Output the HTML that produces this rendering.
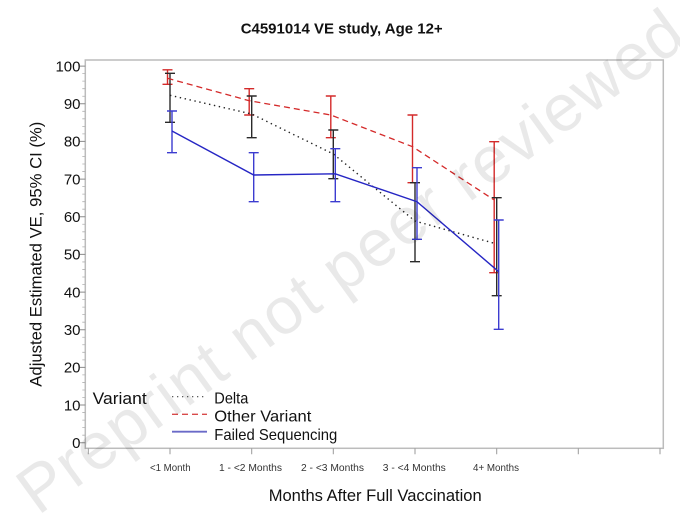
<!DOCTYPE html>
<html>
<head>
<meta charset="utf-8">
<style>
  html, body { margin: 0; padding: 0; background: #ffffff; }
  svg { display: block; }
  text { font-family: "Liberation Sans", Arial, sans-serif; }
</style>
</head>
<body>
<svg width="680" height="516" viewBox="0 0 680 516" xmlns="http://www.w3.org/2000/svg">
  <rect x="0" y="0" width="680" height="516" fill="#ffffff"/>

  <!-- Title -->
  <text x="341.7" y="33.3" font-size="15" font-weight="bold" text-anchor="middle" textLength="202" lengthAdjust="spacingAndGlyphs" fill="#111">C4591014 VE study, Age 12+</text>

  <!-- Frame -->
  <rect x="85.3" y="60" width="578" height="388.3" fill="none" stroke="#bcbcbc" stroke-width="1.5"/>

  <!-- Y major ticks -->
  <g stroke="#8a8a8a" stroke-width="1">
    <path d="M80 442.7h5.3M80 405.0h5.3M80 367.4h5.3M80 329.7h5.3M80 292.1h5.3M80 254.4h5.3M80 216.7h5.3M80 179.1h5.3M80 141.4h5.3M80 103.8h5.3M80 66.1h5.3"/>
  </g>
  <!-- Y minor ticks -->
  <g stroke="#b0b0b0" stroke-width="0.8">
    <path d="M82.3 435.17h3M82.3 427.64h3M82.3 420.10h3M82.3 412.57h3M82.3 397.51h3M82.3 389.98h3M82.3 382.44h3M82.3 374.91h3M82.3 359.85h3M82.3 352.32h3M82.3 344.78h3M82.3 337.25h3M82.3 322.19h3M82.3 314.66h3M82.3 307.12h3M82.3 299.59h3M82.3 284.53h3M82.3 277.00h3M82.3 269.46h3M82.3 261.93h3M82.3 246.87h3M82.3 239.34h3M82.3 231.80h3M82.3 224.27h3M82.3 209.21h3M82.3 201.68h3M82.3 194.14h3M82.3 186.61h3M82.3 171.55h3M82.3 164.02h3M82.3 156.48h3M82.3 148.95h3M82.3 133.89h3M82.3 126.36h3M82.3 118.82h3M82.3 111.29h3M82.3 96.23h3M82.3 88.70h3M82.3 81.16h3M82.3 73.63h3"/>
  </g>

  <!-- Y tick labels -->
  <g font-size="15" fill="#111" text-anchor="end">
    <text x="80.5" y="448.0">0</text>
    <text x="80.5" y="410.3">10</text>
    <text x="80.5" y="372.7">20</text>
    <text x="80.5" y="335.0">30</text>
    <text x="80.5" y="297.4">40</text>
    <text x="80.5" y="259.7">50</text>
    <text x="80.5" y="222.0">60</text>
    <text x="80.5" y="184.4">70</text>
    <text x="80.5" y="146.7">80</text>
    <text x="80.5" y="109.1">90</text>
    <text x="80.5" y="71.4">100</text>
  </g>

  <!-- Y axis title -->
  <text transform="translate(41.5,254.2) rotate(-90)" x="0" y="0" font-size="16.5" text-anchor="middle" textLength="265" lengthAdjust="spacingAndGlyphs" fill="#111">Adjusted Estimated VE, 95% CI (%)</text>

  <!-- X ticks -->
  <g stroke="#9a9a9a" stroke-width="1">
    <path d="M88.3 448.3v6M170 448.3v6M251.7 448.3v6M333.3 448.3v6M415 448.3v6M496.7 448.3v6M578.3 448.3v6M660 448.3v6"/>
  </g>

  <!-- X tick labels -->
  <g font-size="10" fill="#333" text-anchor="middle">
    <text x="170.3" y="470.8" textLength="40.7" lengthAdjust="spacingAndGlyphs">&lt;1 Month</text>
    <text x="250.5" y="470.8" textLength="63" lengthAdjust="spacingAndGlyphs">1 - &lt;2 Months</text>
    <text x="332.5" y="470.8" textLength="63" lengthAdjust="spacingAndGlyphs">2 - &lt;3 Months</text>
    <text x="414.3" y="470.8" textLength="63" lengthAdjust="spacingAndGlyphs">3 - &lt;4 Months</text>
    <text x="496" y="470.8" textLength="46" lengthAdjust="spacingAndGlyphs">4+ Months</text>
  </g>

  <!-- X axis title -->
  <text x="375.2" y="501" font-size="17" text-anchor="middle" textLength="213" lengthAdjust="spacingAndGlyphs" fill="#111">Months After Full Vaccination</text>

  <!-- Error bars: Other Variant (red) -->
  <g stroke="#d42a2a" stroke-width="1.4" fill="none">
    <path d="M167.5 69.8V84.3M162.5 69.8h10M162.5 84.3h10"/>
    <path d="M249.2 88.7V115M244.2 88.7h10M244.2 115h10"/>
    <path d="M330.8 96V137.7M325.8 96h10M325.8 137.7h10"/>
    <path d="M412.5 115V182.7M407.5 115h10M407.5 182.7h10"/>
    <path d="M494.2 141.7V272.7M489.2 141.7h10M489.2 272.7h10"/>
  </g>
  <!-- Error bars: Delta (black) -->
  <g stroke="#2a2a2a" stroke-width="1.4" fill="none">
    <path d="M170 73.3V122.3M165 73.3h10M165 122.3h10"/>
    <path d="M251.7 96V137.7M246.7 96h10M246.7 137.7h10"/>
    <path d="M333.3 130V178.7M328.3 130h10M328.3 178.7h10"/>
    <path d="M415 182.7V261.7M410 182.7h10M410 261.7h10"/>
    <path d="M496.7 197.7V295.7M491.7 197.7h10M491.7 295.7h10"/>
  </g>
  <!-- Error bars: Failed Sequencing (blue) -->
  <g stroke="#3c3cd0" stroke-width="1.4" fill="none">
    <path d="M172 111V152.7M167 111h10M167 152.7h10"/>
    <path d="M253.7 152.7V201.7M248.7 152.7h10M248.7 201.7h10"/>
    <path d="M335.3 148.7V201.7M330.3 148.7h10M330.3 201.7h10"/>
    <path d="M417 167.7V239.3M412 167.7h10M412 239.3h10"/>
    <path d="M498.7 220V329.3M493.7 220h10M493.7 329.3h10"/>
  </g>

  <!-- Series lines -->
  <polyline points="167.5,78.3 249.2,100.7 330.8,115 412.5,146.7 494.2,200" fill="none" stroke="#d42a2a" stroke-width="1.3" stroke-dasharray="6,4"/>
  <polyline points="170,95.3 251.7,114 333.3,154 415,221 496.7,244" fill="none" stroke="#222" stroke-width="1.4" stroke-dasharray="1.4,3.6"/>
  <polyline points="172,131 253.7,175 335.3,173.8 417,201.7 498.7,271.7" fill="none" stroke="#2626c4" stroke-width="1.4"/>

  <!-- Legend -->
  <text x="92.7" y="404" font-size="16.5" textLength="54" lengthAdjust="spacingAndGlyphs" fill="#111">Variant</text>
  <line x1="172" y1="396.7" x2="207" y2="396.7" stroke="#444" stroke-width="1.2" stroke-dasharray="1.3,3.7"/>
  <line x1="172" y1="414.3" x2="207" y2="414.3" stroke="#d84a4a" stroke-width="1.3" stroke-dasharray="6,4"/>
  <line x1="172" y1="431.7" x2="207" y2="431.7" stroke="#6a6ac8" stroke-width="1.8"/>
  <g font-size="16" fill="#111">
    <text x="214.3" y="403.5" textLength="34" lengthAdjust="spacingAndGlyphs">Delta</text>
    <text x="214.3" y="421.5" textLength="97" lengthAdjust="spacingAndGlyphs">Other Variant</text>
    <text x="214.3" y="440" textLength="123" lengthAdjust="spacingAndGlyphs">Failed Sequencing</text>
  </g>

  <!-- Watermark -->
  <text transform="translate(38,516) rotate(-36)" x="0" y="0" font-size="66" textLength="805" lengthAdjust="spacing" fill="#000" fill-opacity="0.085">Preprint not peer reviewed</text>
</svg>
</body>
</html>
